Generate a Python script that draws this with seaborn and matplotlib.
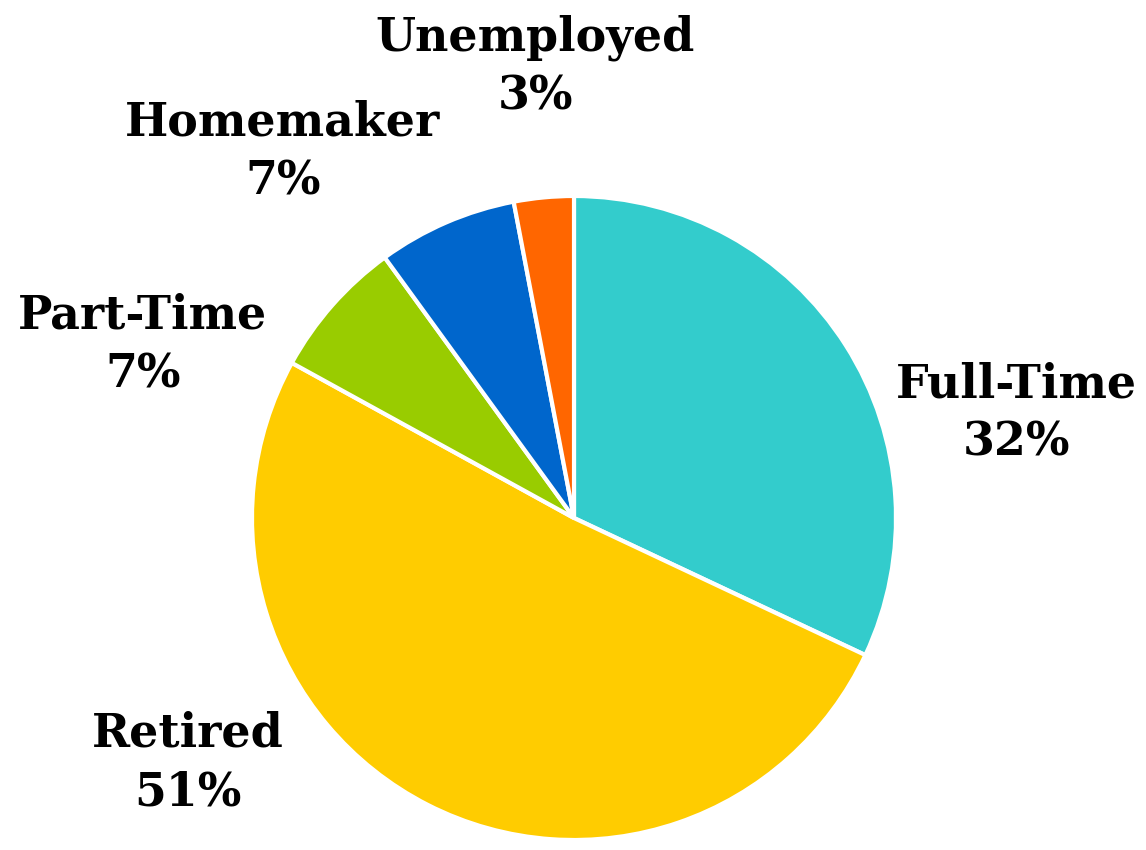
import numpy as np
import pandas as pd
import matplotlib
matplotlib.use("Agg")
import matplotlib.pyplot as plt
import seaborn as sns

# -------------- Data --------------
categories = ["Full-Time", "Retired", "Part-Time", "Homemaker", "Unemployed"]
shares = [32, 51, 7, 7, 3]
colors = ["#33CCCC", "#FFCC00", "#99CC00", "#0066CC", "#FF6600"]

# label centres in pie-radius units (text placement only)
label_pos = [(1.375, 0.325), (-1.199, -0.760), (-1.339, 0.537),
             (-0.904, 1.137), (-0.121, 1.401)]

df = pd.DataFrame({"Status": categories, "Share": shares})

sns.set_theme(style="white")
plt.rcParams["font.family"] = ["DejaVu Serif", "DejaVu Sans"]

fig = plt.figure(figsize=(11.46, 8.5), dpi=100)
ax = fig.add_axes([0, 0, 1, 1])

wedges, _ = ax.pie(df["Share"], colors=colors, startangle=90, counterclock=False,
                   radius=1.0, wedgeprops=dict(edgecolor="white", linewidth=3))

pct = np.round(df["Share"] / df["Share"].sum() * 100).astype(int)
for name, p, (x, y) in zip(df["Status"], pct, label_pos):
    ax.text(x, y, f"{name}\n{p}%", ha="center", va="center", fontsize=33,
            fontweight="heavy", color="black", linespacing=1.35)

# centre of pie at (574, 518) px, radius 322 px
r_px = 322.0
cx, cy = 574, 518
ax.set_xlim(-cx / r_px, (1146 - cx) / r_px)
ax.set_ylim(-(850 - cy) / r_px, cy / r_px)
ax.set_aspect("equal", adjustable="datalim")
ax.axis("off")

fig.savefig("out.png", dpi=100, facecolor="white")
